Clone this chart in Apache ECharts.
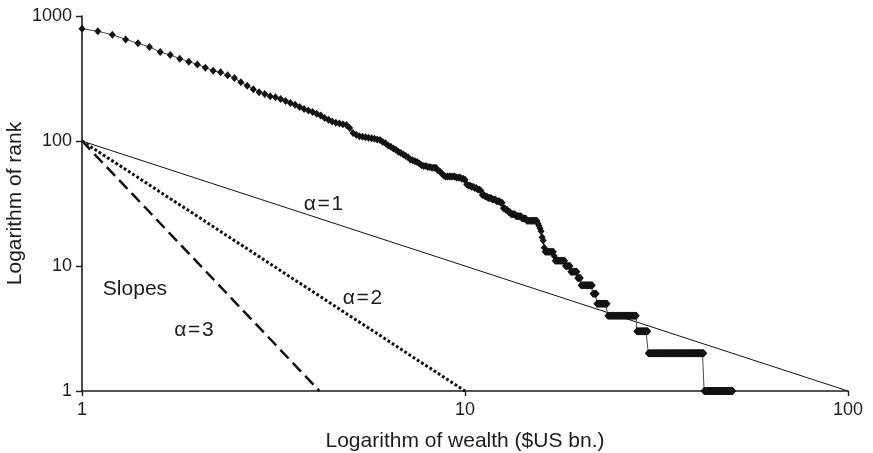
<!DOCTYPE html>
<html>
<head>
<meta charset="utf-8">
<script src="https://cdn.jsdelivr.net/npm/echarts@6/dist/echarts.min.js"></script>
<style>
  html, body { margin: 0; padding: 0; background: #ffffff; }
  #chart { width: 873px; height: 453px; }
</style>
</head>
<body>
<div id="chart"></div>
<script>
// Rank of each fortune level: number of people worth at least the given wealth ($US bn).
// The rank holds from each entry's wealth up to the next entry.
const stepWealth = [
  1.0, 1.1, 1.2, 1.3, 1.4, 1.5, 1.6, 1.7, 1.8, 1.9,
  2.0, 2.1, 2.2, 2.3, 2.4, 2.5, 2.6, 2.7, 2.8, 2.9,
  3.0, 3.1, 3.2, 3.3, 3.4, 3.5, 3.6, 3.7, 3.8, 3.9,
  4.0, 4.1, 4.2, 4.3, 4.4, 4.5, 4.6, 4.7, 4.8, 4.9,
  5.0, 5.1, 5.2, 5.3, 5.4, 5.5, 5.6, 5.7, 5.8, 5.9,
  6.0, 6.1, 6.2, 6.3, 6.4, 6.5, 6.6, 6.7, 6.8, 6.9,
  7.0, 7.1, 7.2, 7.3, 7.4, 7.5, 7.6, 7.7, 7.8, 8.0,
  8.2, 8.5, 8.6, 8.7, 8.8, 8.9, 9.5, 9.8, 10.0, 10.1,
  10.2, 10.4, 10.6, 10.8, 11.0, 11.1, 11.3, 11.5, 11.8, 12.1,
  12.4, 12.6, 12.8, 13.0, 13.2, 13.6, 14.1, 14.5, 15.5, 15.6,
  15.7, 15.8, 15.9, 16.0, 16.1, 16.2, 17.1, 17.2, 18.3, 18.9,
  19.7, 20.1, 21.6, 22.1, 23.6, 28.1, 30.1, 42.1
];
const stepRank = [
  792, 754, 709, 650, 604, 565, 515, 488, 455, 431,
  410, 386, 365, 354, 335, 319, 295, 277, 260, 246,
  238, 228, 224, 217, 209, 201, 195, 187, 180, 175,
  171, 165, 160, 153, 148, 143, 140, 138, 136, 134,
  127, 116, 112, 109, 108, 107, 106, 105, 104, 103,
  102, 98, 96, 92, 90, 87, 85, 82, 80, 78,
  76, 74, 71, 70, 69, 68, 66, 64, 63, 62,
  61, 58, 57, 55, 53, 52, 51, 50, 49, 45,
  44, 43, 42, 41, 40, 37, 36, 35, 34, 33,
  32, 29, 28, 27, 26, 25, 24, 23, 22, 21,
  20, 19, 17, 16, 14, 13, 12, 11, 10, 9,
  8, 7, 6, 5, 4, 3, 2, 1
];
const topWealth = 50.0;      // largest fortune in the list
const wealthStep = 0.1;      // wealth levels are sampled every $0.1bn

// Reference power-law lines through rank 100 at $1bn
const slopeNames = ['α=1', 'α=2', 'α=3'];
const slopeWealthEnd = [100, 10, 4.17];
const slopeRankStart = 100;
const slopeRankEnd = 1;

// Axis ticks
const wealthTicks = [1, 10, 100];
const rankTicks = [1, 10, 100, 1000];

// Text notes placed in data space
const noteText = ['α\u200A=\u200A1', 'α\u200A=\u200A2', 'Slopes', 'α\u200A=\u200A3'];
const noteWealth = [4.27, 5.40, 1.375, 1.96];
const noteRank = [31, 5.57, 6.58, 3.08];

// Sample the step function on the $0.1bn wealth levels
const rankPoints = [];
{
  let k = 0;
  const first = Math.round(stepWealth[0] / wealthStep);
  const last = Math.round(topWealth / wealthStep);
  for (let t = first; t <= last; t++) {
    while (k + 1 < stepWealth.length && Math.round(stepWealth[k + 1] / wealthStep) <= t) k++;
    rankPoints.push([+(t * wealthStep).toFixed(1), stepRank[k]]);
  }
}

const FONT = '"Liberation Sans", Arial, Helvetica, sans-serif';
const INK = '#1c1c1c';

const slopeStyles = [
  { width: 1, type: 'solid' },
  { width: 3, type: [2.8, 2.2], cap: 'butt' },
  { width: 2.5, type: [12, 6], cap: 'butt' }
];

const chart = echarts.init(document.getElementById('chart'), null, { renderer: 'canvas' });

const option = {
  animation: false,
  backgroundColor: '#ffffff',
  grid: {
    left: 82, right: 25, top: 16, bottom: 62,
    containLabel: false,
    outerBoundsMode: 'none'
  },
  xAxis: {
    type: 'log',
    logBase: 10,
    min: wealthTicks[0],
    max: wealthTicks[wealthTicks.length - 1],
    name: 'Logarithm of wealth ($US bn.)',
    nameLocation: 'middle',
    nameGap: 40,
    nameMoveOverlap: false,
    nameTextStyle: { fontFamily: FONT, fontSize: 21, color: INK },
    axisLine: { show: true, lineStyle: { color: INK, width: 1.6 } },
    axisTick: { show: true, length: 5, lineStyle: { color: INK, width: 1.4 } },
    minorTick: { show: false },
    splitLine: { show: false },
    axisLabel: {
      margin: 10,
      fontFamily: FONT, fontSize: 18, color: INK,
      formatter: v => {
        const m = wealthTicks.find(t => Math.abs(t - v) / t < 1e-6);
        return m === undefined ? '' : String(m);
      }
    }
  },
  yAxis: {
    type: 'log',
    logBase: 10,
    min: rankTicks[0],
    max: rankTicks[rankTicks.length - 1],
    name: 'Logarithm of rank',
    nameLocation: 'middle',
    nameGap: 56,
    nameRotate: 90,
    nameMoveOverlap: false,
    nameTextStyle: { fontFamily: FONT, fontSize: 21, color: INK },
    axisLine: { show: true, lineStyle: { color: INK, width: 1.6 } },
    axisTick: { show: true, length: 6, lineStyle: { color: INK, width: 1.4 } },
    minorTick: { show: false },
    splitLine: { show: false },
    axisLabel: {
      margin: 10,
      fontFamily: FONT, fontSize: 18, color: INK,
      formatter: v => {
        const m = rankTicks.find(t => Math.abs(t - v) / t < 1e-6);
        return m === undefined ? '' : String(m);
      }
    }
  },
  series: [
    ...slopeNames.map((name, i) => ({
      name,
      type: 'line',
      symbol: 'none',
      silent: true,
      z: 2,
      data: [[1, slopeRankStart], [slopeWealthEnd[i], slopeRankEnd]],
      lineStyle: Object.assign({ color: '#111111' }, slopeStyles[i])
    })),
    {
      name: 'Rank',
      type: 'line',
      z: 3,
      data: rankPoints,
      symbol: 'diamond',
      symbolSize: [7, 8],
      showAllSymbol: true,
      itemStyle: { color: '#141414' },
      lineStyle: { color: '#4a4a4a', width: 1 }
    },
    {
      name: 'Notes',
      type: 'scatter',
      symbol: 'circle',
      symbolSize: 1,
      silent: true,
      z: 4,
      itemStyle: { color: 'rgba(0,0,0,0)' },
      data: noteText.map((t, i) => ({ value: [noteWealth[i], noteRank[i]], name: t })),
      label: {
        show: true,
        position: 'inside',
        align: 'center',
        verticalAlign: 'middle',
        formatter: p => p.name,
        fontFamily: FONT,
        fontSize: 21,
        color: INK,
        opacity: 1,
        textBorderWidth: 0,
        textBorderColor: 'transparent'
      }
    }
  ]
};

chart.setOption(option);
</script>
</body>
</html>
